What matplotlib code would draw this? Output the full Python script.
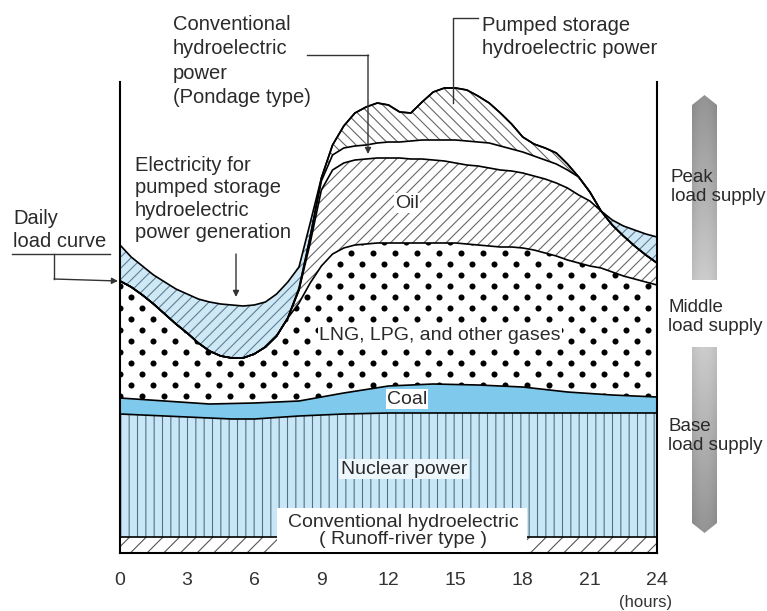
import numpy as np
import matplotlib
matplotlib.use("Agg")
import matplotlib.pyplot as plt
from matplotlib.patches import Polygon, Rectangle

plt.rcParams['font.family'] = ['Liberation Sans', 'DejaVu Sans']
plt.rcParams['hatch.linewidth'] = 0.8

# ---------------- data (hours, load units) ----------------
hours = np.arange(0, 24.5, 0.5)

supply_top = [308, 296, 287, 278, 271, 264, 259, 254, 251, 249, 248, 247, 248, 251, 259, 271,
              286, 330, 375, 408, 427, 440, 446, 450, 448, 441, 440, 451, 461, 465, 465, 463,
              457, 450, 440, 429, 416, 409, 405, 400, 389, 376, 361, 342, 333, 327, 323, 319, 316]

load_curve = [272, 266, 258, 249, 239, 229, 220, 210, 202, 197, 195, 195, 199, 206, 217, 235,
              265, 316, 375, 408, 427, 440, 446, 450, 448, 441, 440, 451, 461, 465, 465, 463,
              457, 450, 440, 429, 416, 409, 405, 400, 389, 376, 361, 342, 328, 317, 307, 298, 290]

lng_top = [272, 266, 258, 249, 239, 229, 220, 210, 202, 197, 195, 195, 199, 206, 217, 235,
           250, 270, 287, 299, 305, 308, 309, 310, 310, 310, 310, 310, 310, 310, 310, 309,
           308, 307, 306, 306, 305, 303, 300, 297, 293, 290, 287, 285, 281, 277, 274, 271, 268]

oil_top = [272, 266, 258, 249, 239, 229, 220, 210, 202, 197, 195, 195, 199, 206, 217, 235,
           263, 310, 363, 383, 390, 393, 394, 395, 395, 395, 394, 394, 393, 392, 390, 388,
           387, 385, 383, 382, 380, 377, 374, 370, 365, 358, 352, 342, 328, 317, 307, 298, 290]

pondage_top = [272, 266, 258, 249, 239, 229, 220, 210, 202, 197, 195, 195, 199, 206, 217, 235,
               263, 316, 372, 398, 405, 407, 408, 410, 411, 411, 412, 413, 413, 413, 413, 412,
               411, 410, 407, 404, 401, 397, 393, 389, 383, 376, 361, 342, 328, 317, 307, 298, 290]

coal_hours = [0, 2, 4, 6, 8, 10, 12, 14, 16, 18, 20, 22, 24]
coal_top = [155, 152, 149, 150, 152, 160, 167, 169, 168, 166, 161, 158, 156]

nuclear_hours = [0, 2, 4, 5, 6, 8, 10, 12, 24]
nuclear_top = [139, 137, 135, 134, 134, 137, 139, 140, 140]

runoff_hours = [0, 24]
runoff_top = [16, 16]

tick_hours = [0, 3, 6, 9, 12, 15, 18, 21, 24]
tick_labels = ['0', '3', '6', '9', '12', '15', '18', '21', '24']

# ---------------- figure ----------------
W, H = 767, 611
fig = plt.figure(figsize=(W / 100, H / 100), dpi=100)
ax = fig.add_axes([120 / W, (H - 553) / H, (657 - 120) / W, (553 - 82) / H])
ax.set_xlim(0, 24)
ax.set_ylim(0, 471)

xf = np.linspace(0, 24, 1921)
R = np.interp(xf, runoff_hours, runoff_top)
N = np.interp(xf, nuclear_hours, nuclear_top)
C = np.interp(xf, coal_hours, coal_top)
G = np.interp(xf, hours, lng_top)
O = np.interp(xf, hours, oil_top)
P = np.interp(xf, hours, pondage_top)
L = np.interp(xf, hours, load_curve)
S = np.interp(xf, hours, supply_top)

ax.fill_between(xf, 0, R, facecolor='white', edgecolor='#555555', hatch='//', linewidth=0, zorder=1)
ax.fill_between(xf, R, N, facecolor='#c8e6f5', edgecolor='#4f7288', hatch='||', linewidth=0, zorder=1)
ax.fill_between(xf, N, C, facecolor='#7fcaec', linewidth=0, zorder=1)
lng_poly = ax.fill_between(xf, C, G, facecolor='white', linewidth=0, zorder=1)
ax.fill_between(xf, G, O, where=O > G, interpolate=True, facecolor='white', edgecolor='#666666',
                hatch='///', linewidth=0, zorder=1)
ax.fill_between(xf, P, L, where=L > P, interpolate=True, facecolor='white', edgecolor='#666666',
                hatch='\\\\\\', linewidth=0, zorder=1)
ax.fill_between(xf, L, S, where=S > L, interpolate=True, facecolor='#cfe8f5', edgecolor='#5f7f95',
                hatch='///', linewidth=0, zorder=1)

# dotted pattern for LNG region
dx = 22 / 22.375
dy = 11
X, Y = [], []
for i, yy in enumerate(np.arange(3, 480, dy)):
    off = 0.0 if i % 2 == 0 else dx / 2
    xs = np.arange(off - dx, 24 + dx, dx)
    X.extend(xs)
    Y.extend([yy] * len(xs))
sc = ax.scatter(X, Y, s=19, c='black', linewidths=0, zorder=2)
sc.set_clip_path(lng_poly.get_paths()[0], ax.transData)

lw = 1.2
for hx, hy in [(runoff_hours, runoff_top), (nuclear_hours, nuclear_top), (coal_hours, coal_top),
               (hours, lng_top), (hours, oil_top), (hours, pondage_top), (hours, load_curve),
               (hours, supply_top)]:
    ax.plot(hx, hy, color='black', lw=lw, zorder=3, solid_joinstyle='round')

for s in ['left', 'right', 'bottom']:
    ax.spines[s].set_linewidth(1.5)
    ax.spines[s].set_color('black')
ax.spines['top'].set_visible(False)
ax.set_yticks([])
ax.set_xticks(tick_hours)
ax.set_xticklabels(tick_labels, fontsize=14, color='#333333')
ax.tick_params(axis='x', length=0, pad=14)

# ---------------- overlay in pixel coordinates ----------------
ov = fig.add_axes([0, 0, 1, 1])
ov.patch.set_visible(False)
ov.axis('off')

tc = '#2a2a2a'
fs = 14.5

# inner labels
box = dict(facecolor='white', edgecolor='none', pad=1.0)
ov.text(407, 203, 'Oil', ha='center', va='center', fontsize=14, color=tc, bbox=box)
ov.text(440, 335, 'LNG, LPG, and other gases', ha='center', va='center', fontsize=14, color=tc, bbox=box)
ov.text(407, 399, 'Coal', ha='center', va='center', fontsize=14, color=tc, bbox=box)
ov.text(404, 469, 'Nuclear power', ha='center', va='center', fontsize=14, color=tc,
        bbox=dict(facecolor='#eef7fc', edgecolor='none', pad=1.0))
ov.add_patch(Rectangle((277, 508), 250, 44, facecolor='white', edgecolor='none', zorder=4))
ov.text(403, 531, 'Conventional hydroelectric\n( Runoff-river type )', ha='center', va='center',
        fontsize=14, color=tc, linespacing=0.95, zorder=5)

# annotation texts
ov.text(173, 61, 'Conventional\nhydroelectric\npower\n(Pondage type)', ha='left', va='center',
        fontsize=fs, color=tc, linespacing=1.36)
ov.text(135, 199, 'Electricity for\npumped storage\nhydroelectric\npower generation', ha='left',
        va='center', fontsize=fs, color=tc, linespacing=1.24)
ov.text(13, 230, 'Daily\nload curve', ha='left', va='center', fontsize=fs, color=tc, linespacing=1.22)
ov.text(482, 37, 'Pumped storage\nhydroelectric power', ha='left', va='center', fontsize=fs,
        color=tc, linespacing=1.25)

ac = '#333333'
ov.plot([307, 368], [55, 55], color=ac, lw=1)
ov.annotate('', xy=(368, 154), xytext=(368, 55),
            arrowprops=dict(arrowstyle='-|>', color=ac, lw=1, mutation_scale=9, shrinkA=0, shrinkB=0))
ov.plot([478, 453, 453], [18, 18, 103], color=ac, lw=1)
ov.plot([12, 110], [254, 254], color=ac, lw=1)
ov.plot([54, 54], [254, 279], color=ac, lw=1)
ov.annotate('', xy=(118, 281), xytext=(54, 279),
            arrowprops=dict(arrowstyle='-|>', color=ac, lw=1, mutation_scale=9, shrinkA=0, shrinkB=0))
ov.annotate('', xy=(236, 297), xytext=(236, 254),
            arrowprops=dict(arrowstyle='-|>', color=ac, lw=1, mutation_scale=9, shrinkA=0, shrinkB=0))


def grad_bar(pts, y0, y1, v0, v1):
    poly = Polygon(pts, closed=True, facecolor='none', edgecolor='none')
    ov.add_patch(poly)
    col = np.linspace(v0, v1, 120)[:, None]
    xs = np.linspace(-1, 1, 30)[None, :]
    img = col - 0.05 * xs ** 2
    im = ov.imshow(img, cmap='gray', vmin=0, vmax=1, extent=(692, 717, y1, y0),
                   aspect='auto', interpolation='bilinear', zorder=2)
    im.set_clip_path(poly)


grad_bar([(692, 105), (704.5, 95), (717, 105), (717, 280), (692, 280)], 95, 280, 0.58, 0.8)
grad_bar([(692, 347), (717, 347), (717, 523), (704.5, 533), (692, 523)], 347, 533, 0.8, 0.58)

rs = 13.5
ov.text(671, 187, 'Peak\nload supply', ha='left', va='center', fontsize=rs, color=tc,
        linespacing=1.2, zorder=5)
ov.text(668, 317, 'Middle\nload supply', ha='left', va='center', fontsize=rs, color=tc,
        linespacing=1.2, zorder=5)
ov.text(668, 436, 'Base\nload supply', ha='left', va='center', fontsize=rs, color=tc,
        linespacing=1.2, zorder=5)
ov.text(646, 602, '(hours)', ha='center', va='center', fontsize=12, color='#333333')

ov.set_xlim(0, W)
ov.set_ylim(H, 0)

fig.savefig('out.png', dpi=100)
